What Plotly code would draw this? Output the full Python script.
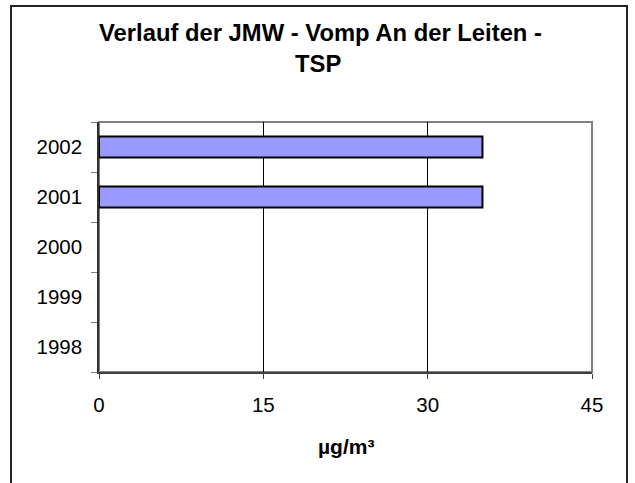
import plotly.graph_objects as go

years = [1998, 1999, 2000, 2001, 2002]
values = [None, None, None, 35, 35]
x_ticks = [0, 15, 30, 45]
title_line1 = "Verlauf der JMW - Vomp An der Leiten -"
title_line2 = "TSP"
x_title = "µg/m³"

FONT = "Liberation Sans, Arial, sans-serif"
W, H = 635, 483
L, R, T, B = 99, 592, 122, 372
pw, ph = R - L, B - T

def px(xp):
    return (xp - L) / pw

def py(yp):
    return (B - yp) / ph

fig = go.Figure()
fig.add_trace(go.Bar(
    x=values, y=years, orientation="h", width=0.42,
    marker=dict(color="#9999FF", line=dict(color="#000000", width=2)),
    hoverinfo="skip",
))

fig.update_layout(
    width=W, height=H,
    margin=dict(l=L, r=W - R, t=T, b=H - B, pad=0),
    paper_bgcolor="white", plot_bgcolor="white",
    showlegend=False,
    font=dict(family=FONT, size=20, color="black"),
    xaxis=dict(
        range=[0, 45], tickvals=x_ticks, ticks="outside", ticklen=5,
        tickcolor="#404040", tickwidth=1,
        showgrid=True, gridcolor="#000000", gridwidth=1,
        showline=True, linecolor="#404040", linewidth=2,
        zeroline=False, ticklabelstandoff=8,
        tickfont=dict(family=FONT, size=20.5),
    ),
    yaxis=dict(
        range=[1997.5, 2002.5], tickvals=years, ticks="",
        showgrid=False, zeroline=False,
        showline=True, linecolor="#303030", linewidth=1.5,
        ticklabelstandoff=11,
        tickfont=dict(family=FONT, size=20.5),
        minor=dict(tickmode="array", tickvals=[1997.5, 1998.5, 1999.5, 2000.5, 2001.5, 2002.5],
                   ticks="outside", ticklen=6, tickcolor="#808080", tickwidth=1, showgrid=False),
    ),
)

# plot area frame (gray top/right)
fig.add_shape(type="rect", xref="paper", yref="paper", x0=0, x1=1, y0=0, y1=1,
              line=dict(color="#808080", width=2), layer="below")
# outer chart border
fig.add_shape(type="rect", xref="paper", yref="paper",
              x0=px(11), x1=px(627), y0=py(520), y1=py(6),
              line=dict(color="#222222", width=2))

fig.add_annotation(text=title_line1, xref="paper", yref="paper", x=px(320), y=py(33),
                   xanchor="center", yanchor="middle", showarrow=False,
                   font=dict(family=FONT, size=23.8, color="black", weight="bold"))
fig.add_annotation(text=title_line2, xref="paper", yref="paper", x=px(318), y=py(63.5),
                   xanchor="center", yanchor="middle", showarrow=False,
                   font=dict(family=FONT, size=23.8, color="black", weight="bold"))
fig.add_annotation(text=x_title, xref="paper", yref="paper", x=px(345.5), y=py(446),
                   xanchor="center", yanchor="middle", showarrow=False,
                   font=dict(family=FONT, size=21, color="black", weight="bold"))

fig.write_html("out.html", config={"displayModeBar": False},
               post_script="document.body.style.margin='0';")
